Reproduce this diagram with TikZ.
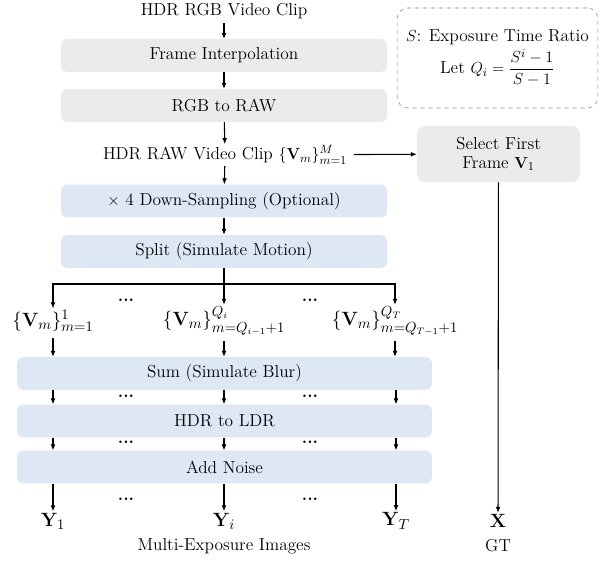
\documentclass[tikz,border=0pt]{standalone}
\usepackage{amsmath}
\usetikzlibrary{arrows.meta,positioning}
\definecolor{boxgray}{HTML}{EBEBEB}
\definecolor{boxblue}{HTML}{DDE8F4}

\begin{document}
\begin{tikzpicture}[x=0.75pt,y=-0.75pt,
    font=\fontsize{13}{15}\selectfont,
    arr/.style={thick,-{Latex[length=4.5pt,width=3.6pt]}},
    stage/.style={rounded corners=4pt,minimum width=244.5pt,minimum height=24.5pt,inner sep=0pt},
    widestage/.style={stage,minimum width=311pt},
    group/.style={inner sep=1pt,font=\fontsize{15}{17}\selectfont},
    dots/.style={font=\fontsize{13}{15}\bfseries}]
            \useasboundingbox (0,0) rectangle (602,560);
            % top chain
            \node (rgb) at (224,11) {HDR RGB Video Clip};
            \node[stage,fill=boxgray] (interp) at (224,55.5) {Frame Interpolation};
            \node[stage,fill=boxgray] (toraw) at (224,105.5) {RGB to RAW};
            \node[inner sep=1pt] (raw) at (225,155) {HDR RAW Video Clip $\{\mathbf{V}_m\}_{m=1}^{M}$};
            \node[stage,fill=boxblue] (down) at (224,201) {$\times$ 4 Down-Sampling (Optional)};
            \node[stage,fill=boxblue] (split) at (224,251.5) {Split (Simulate Motion)};
            \draw[arr] (rgb) -- (interp);
            \draw[arr] (interp) -- (toraw);
            \draw[arr] (toraw) -- (raw);
            \draw[arr] (raw) -- (down);
            \draw[arr] (down) -- (split);

            % ground truth branch
            \node[rounded corners=6pt,fill=boxgray,minimum width=122pt,minimum height=42pt,align=center,inner sep=0pt] (select) at (498.5,154) {Select First\\[-1pt]Frame $\mathbf{V}_1$};
            \draw[arr,shorten <=4pt] (raw) -- (select);
            \node[draw=gray,dashed,rounded corners=8pt,minimum width=150.5pt,minimum height=75pt,align=center,inner sep=0pt] (ratio) at (497.5,58)
                {$S$: Exposure Time Ratio\\[2pt] Let $\displaystyle Q_i=\frac{S^i-1}{S-1}$};

            % split into groups
            \node[group] (v1) at (53,321) {$\{\mathbf{V}_m\}_{m=1}^{1}$};
            \node[group] (v2) at (224,321) {$\{\mathbf{V}_m\}_{m=Q_{i-1}+1}^{Q_i}$};
            \node[group] (v3) at (395,321) {$\{\mathbf{V}_m\}_{m=Q_{T-1}+1}^{Q_T}$};
            \coordinate (fork) at (224,284);
            \draw[arr] (split) -- (v2);
            \draw[arr] (fork) -| (v1);
            \draw[arr] (fork) -| (v3);
            \node[dots] (d1) at (126,300) {...};
            \node[dots] (d2) at (310,300) {...};

            % per-group processing
            \node[widestage,fill=boxblue] (sum) at (224.5,373.5) {Sum (Simulate Blur)};
            \node[widestage,fill=boxblue] (ldr) at (224.5,421) {HDR to LDR};
            \node[widestage,fill=boxblue] (noise) at (224.5,467) {Add Noise};
            \node[group] (y1) at (53,521) {$\mathbf{Y}_1$};
            \node[group] (yi) at (224,521) {$\mathbf{Y}_i$};
            \node[group] (yt) at (396,521) {$\mathbf{Y}_T$};
            \foreach \v in {v1,v2,v3}
                \draw[arr,shorten <=3pt] (\v) -- (sum.north -| \v);
            \foreach \y in {y1,yi,yt} {
                \draw[arr] (sum.south -| \y) -- (ldr.north -| \y);
                \draw[arr] (ldr.south -| \y) -- (noise.north -| \y);
                \draw[arr] (noise.south -| \y) -- (\y);
            }
            \foreach \x/\yy in {126/396,310/396,126/442,310/442,126/499,310/499}
                \node[dots] at (\x,\yy) {...};

            % outputs
            \node[group] (x) at (498,521) {$\mathbf{X}$};
            \draw[arr] (select) -- (x);
            \node (multi) at (224,546) {Multi-Exposure Images};
            \node (gt) at (498,546) {GT};
        \end{tikzpicture}
\end{document}
